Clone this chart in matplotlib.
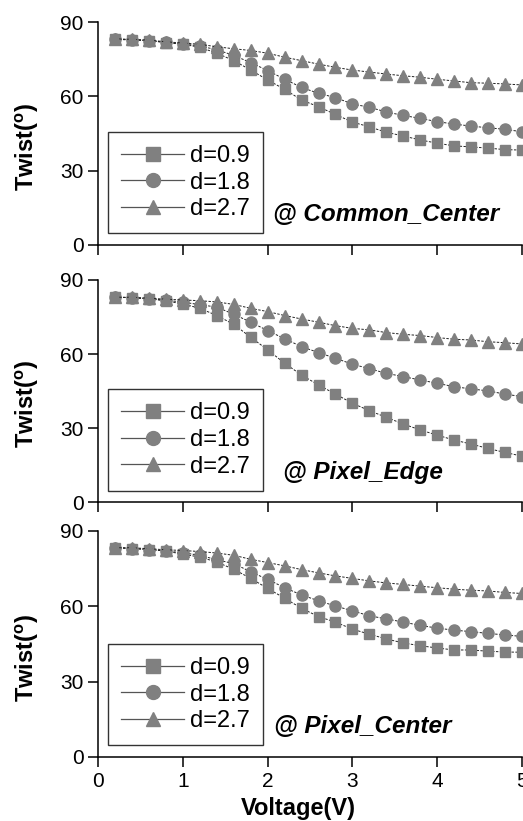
import numpy as np
import matplotlib
matplotlib.use('Agg')
import matplotlib.pyplot as plt
from matplotlib.lines import Line2D

plt.rcParams['font.family'] = ['Liberation Sans', 'DejaVu Sans']
plt.rcParams['mathtext.fontset'] = 'custom'
plt.rcParams['mathtext.rm'] = 'Liberation Sans'

# Voltage sweep (V)
voltage = [0.2, 0.4, 0.6, 0.8, 1.0, 1.2, 1.4, 1.6, 1.8, 2.0, 2.2, 2.4, 2.6,
           2.8, 3.0, 3.2, 3.4, 3.6, 3.8, 4.0, 4.2, 4.4, 4.6, 4.8, 5.0]

# Twist angle (deg) @ Common_Center
cc_d09 = [83.0, 82.8, 82.5, 81.7, 81.0, 79.8, 77.4, 74.4, 70.6, 66.6, 62.8, 58.5, 55.8,
          52.7, 49.6, 47.7, 45.5, 44.0, 42.4, 41.1, 40.0, 39.6, 39.1, 38.5, 38.3]
cc_d18 = [83.0, 82.8, 82.4, 81.8, 81.2, 80.3, 78.8, 76.5, 73.6, 70.4, 66.9, 63.6, 61.2,
          59.5, 56.9, 55.6, 53.7, 52.3, 51.1, 49.8, 48.8, 48.0, 47.3, 46.7, 45.7]
cc_d27 = [83.2, 83.0, 82.7, 82.0, 81.5, 81.0, 80.0, 79.2, 78.5, 77.4, 75.8, 74.4, 73.0,
          71.7, 70.6, 69.8, 69.0, 68.3, 67.7, 66.9, 66.2, 65.5, 65.3, 65.0, 64.6]

# @ Pixel_Edge
pe_d09 = [83.0, 82.8, 82.4, 81.5, 80.3, 78.5, 75.6, 72.0, 66.8, 61.7, 56.3, 51.5, 47.5,
          43.8, 40.1, 37.1, 34.4, 31.7, 29.3, 27.2, 25.2, 23.6, 21.8, 20.2, 18.7]
pe_d18 = [83.0, 82.8, 82.4, 81.8, 81.0, 80.0, 79.0, 76.1, 72.9, 69.5, 66.2, 63.0, 60.6,
          58.3, 55.9, 54.1, 52.2, 50.9, 49.5, 48.2, 46.8, 45.9, 45.1, 43.8, 42.8]
pe_d27 = [83.0, 83.0, 82.6, 82.2, 81.9, 81.6, 81.1, 80.1, 78.5, 77.2, 75.6, 74.2, 72.9,
          71.5, 70.4, 69.8, 68.7, 68.0, 67.5, 66.7, 66.0, 65.7, 65.0, 64.6, 64.1]

# @ Pixel_Center
pc_d09 = [83.3, 83.0, 82.6, 82.0, 80.7, 79.6, 77.6, 74.7, 71.1, 67.1, 63.2, 59.2, 55.9,
          53.7, 50.9, 48.9, 47.0, 45.4, 44.3, 43.4, 42.6, 42.6, 42.1, 41.8, 41.7]
pc_d18 = [83.3, 83.0, 82.6, 82.0, 81.3, 80.3, 78.5, 77.0, 73.7, 70.7, 67.4, 64.5, 62.2,
          60.1, 58.2, 56.2, 55.0, 53.7, 52.4, 51.3, 50.5, 49.9, 49.2, 48.6, 48.0]
pc_d27 = [83.3, 83.3, 82.9, 82.5, 82.2, 81.8, 81.2, 80.3, 78.7, 77.4, 76.1, 74.6, 73.3,
          72.1, 71.1, 70.1, 69.3, 68.7, 68.0, 67.4, 66.8, 66.4, 66.1, 65.5, 65.1]

series_labels = ['d=0.9', 'd=1.8', 'd=2.7']
markers = ['s', 'o', '^']
msizes = [7, 8, 8.5]
panel_names = ['@ Common_Center', '@ Pixel_Edge', '@ Pixel_Center']
panel_data = [[cc_d09, cc_d18, cc_d27],
              [pe_d09, pe_d18, pe_d27],
              [pc_d09, pc_d18, pc_d27]]

grey = '#808080'

fig = plt.figure(figsize=(5.23, 8.21), dpi=100)
# axes boxes in figure fraction: [left, bottom, width, height]
boxes = [[0.188, 0.7016, 0.8096, 0.2716],
         [0.188, 0.3882, 0.8096, 0.2708],
         [0.188, 0.0780, 0.8096, 0.2753]]
text_x = [0.413, 0.437, 0.415]

for i, (box, data, name) in enumerate(zip(boxes, panel_data, panel_names)):
    ax = fig.add_axes(box)
    for ys, mk, ms in zip(data, markers, msizes):
        ax.plot(voltage, ys, color='#222222', lw=0.7, ls=(0, (2.5, 1.5)),
                marker=mk, ms=ms, mfc=grey, mec=grey)
    ax.set_xlim(0, 5)
    ax.set_ylim(0, 90)
    ax.set_yticks([0, 30, 60, 90])
    ax.set_xticks([0, 1, 2, 3, 4, 5])
    ax.spines['top'].set_visible(False)
    ax.spines['right'].set_visible(False)
    for s in ['left', 'bottom']:
        ax.spines[s].set_linewidth(1.1)
    ax.tick_params(direction='out', length=7, width=1.1, labelsize=15, colors='black')
    if i < 2:
        ax.tick_params(axis='x', labelbottom=False)
    else:
        ax.set_xlabel('Voltage(V)', fontsize=17, fontweight='bold')
        ax.xaxis.set_label_coords(0.472, -0.178)
    ax.set_ylabel('Twist($^\\mathregular{o}$)', fontsize=17, fontweight='bold')
    ax.yaxis.set_label_coords(-0.135, 0.44)

    handles = [Line2D([], [], color='#555555', lw=0.9, marker=mk, ms=10,
                      mfc=grey, mec=grey) for mk in markers]
    leg = ax.legend(handles, series_labels, loc='lower left',
                    bbox_to_anchor=(0.022, 0.052), fontsize=17, frameon=True,
                    fancybox=False, edgecolor='black', handlelength=2.7,
                    handletextpad=0.25, labelspacing=0.2, borderpad=0.55,
                    borderaxespad=0)
    leg.get_frame().set_linewidth(1.0)

    ax.text(text_x[i], 0.135, name, transform=ax.transAxes, fontsize=17.5,
            fontweight='bold', fontstyle='italic', va='center', ha='left')

fig.savefig('out.png', dpi=100, facecolor='white')
